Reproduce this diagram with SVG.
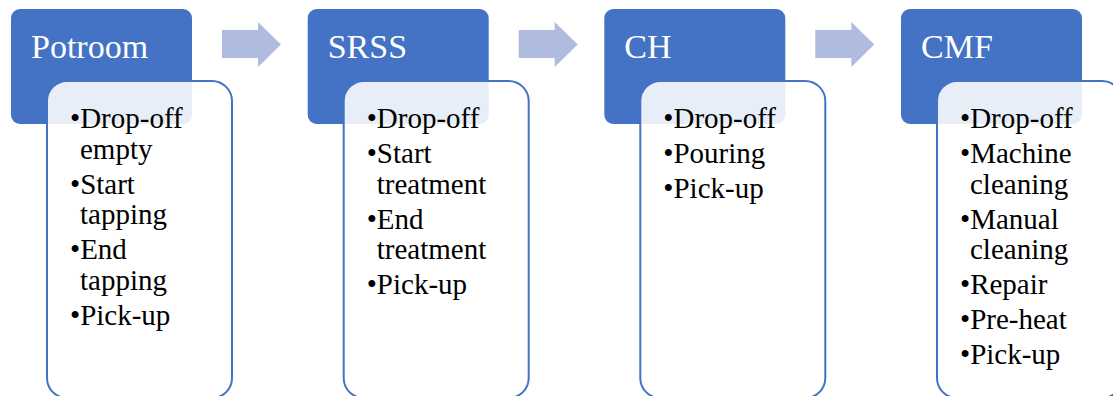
<svg xmlns="http://www.w3.org/2000/svg" width="1113" height="396" viewBox="0 0 1113 396">
<style>
.hdr{fill:#4472C4}
.sub{fill:#FFFFFF;fill-opacity:0.88;stroke:#4472C4;stroke-width:2}
.ht{font-size:34px;fill:#FFFFFF}
.bt{font-size:29px;fill:#000000}
.arr{fill:#AFBCE0}
</style>
<rect width="1113" height="396" fill="#FFFFFF"/>
<g id="connectors">
<path class="arr" d="M222,30 H258 V22 L281,44.5 L258,67 V58 H222 Z"/>
<path class="arr" d="M518.7,30 H554.7 V22 L577.7,44.5 L554.7,67 V58 H518.7 Z"/>
<path class="arr" d="M815.3,30 H851.3 V22 L874.3,44.5 L851.3,67 V58 H815.3 Z"/>
</g>
<g font-family="'Liberation Serif', Tinos, 'Times New Roman', 'DejaVu Serif', serif">
<g id="potroom">
<rect class="hdr" x="11" y="9" width="181" height="115" rx="9"/>
<text class="ht" x="31" y="58">Potroom</text>
<rect class="sub" x="47" y="81" width="185" height="317" rx="20"/>
<text class="bt" x="70" y="128">•Drop-off</text>
<text class="bt" x="80" y="158.5">empty</text>
<text class="bt" x="70" y="193.5">•Start</text>
<text class="bt" x="80" y="224">tapping</text>
<text class="bt" x="70" y="259">•End</text>
<text class="bt" x="80" y="289.5">tapping</text>
<text class="bt" x="70" y="324.5">•Pick-up</text>
</g>
<g id="srss">
<rect class="hdr" x="307.7" y="9" width="181" height="115" rx="9"/>
<text class="ht" x="327.7" y="58">SRSS</text>
<rect class="sub" x="343.7" y="81" width="185" height="317" rx="20"/>
<text class="bt" x="366.7" y="128">•Drop-off</text>
<text class="bt" x="366.7" y="163">•Start</text>
<text class="bt" x="376.7" y="193.5">treatment</text>
<text class="bt" x="366.7" y="228.5">•End</text>
<text class="bt" x="376.7" y="259">treatment</text>
<text class="bt" x="366.7" y="294">•Pick-up</text>
</g>
<g id="ch">
<rect class="hdr" x="604.3" y="9" width="181" height="115" rx="9"/>
<text class="ht" x="624.3" y="58">CH</text>
<rect class="sub" x="640.3" y="81" width="185" height="317" rx="20"/>
<text class="bt" x="663.3" y="128">•Drop-off</text>
<text class="bt" x="663.3" y="163">•Pouring</text>
<text class="bt" x="663.3" y="198">•Pick-up</text>
</g>
<g id="cmf">
<rect class="hdr" x="901" y="9" width="181" height="115" rx="9"/>
<text class="ht" x="921" y="58">CMF</text>
<rect class="sub" x="937" y="81" width="185" height="317" rx="20"/>
<text class="bt" x="960" y="128">•Drop-off</text>
<text class="bt" x="960" y="163">•Machine</text>
<text class="bt" x="970" y="193.5">cleaning</text>
<text class="bt" x="960" y="228.5">•Manual</text>
<text class="bt" x="970" y="259">cleaning</text>
<text class="bt" x="960" y="294">•Repair</text>
<text class="bt" x="960" y="329">•Pre-heat</text>
<text class="bt" x="960" y="364">•Pick-up</text>
</g>
</g>
</svg>
